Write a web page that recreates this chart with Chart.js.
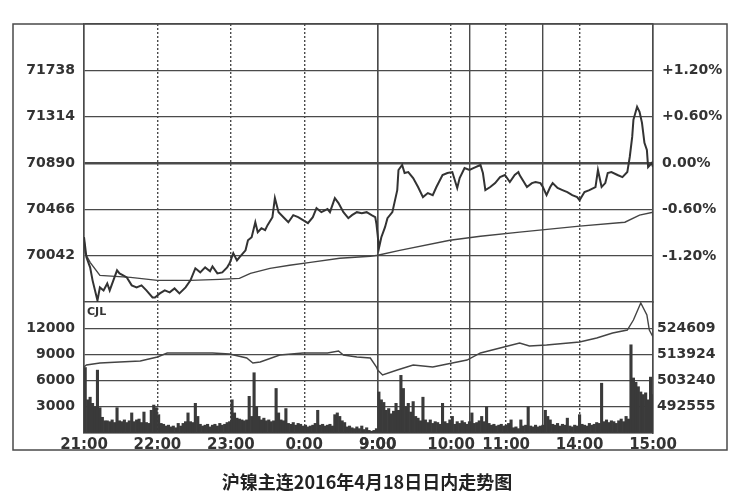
<!DOCTYPE html>
<html lang="zh-CN">
<head>
<meta charset="utf-8">
<title>沪镍主连2016年4月18日日内走势图</title>
<script src="https://cdn.jsdelivr.net/npm/chart.js@4.4.1/dist/chart.umd.min.js"></script>
<style>
  html, body { margin: 0; padding: 0; background: #fff; }
  #wrap { position: relative; width: 748px; height: 499px; }
  #caption {
    position: absolute; left: 0; top: 468px; width: 734px;
    text-align: center; color: #222;
    font: bold 18px "Noto Sans CJK SC", sans-serif;
  }
</style>
</head>
<body>
<div id="wrap">
  <canvas id="chart" width="748" height="499"></canvas>
  <div id="caption">沪镍主连2016年4月18日日内走势图</div>
</div>
<script>
// ─────────────────────────────────────────
// DATA (x = minutes since 21:00, trading time only)
// ─────────────────────────────────────────
const PREV_CLOSE = 70890;
const PRICE_TICKS = [70042, 70466, 70890, 71314, 71738];
const PCT_TICKS = [-1.2, -0.6, 0, 0.6, 1.2];
const VOL_TICKS = [3000, 6000, 9000, 12000];
const OI_TICKS = [492555, 503240, 513924, 524609];
const TIME_TICKS = [0, 60, 120, 180, 240, 300, 345, 405, 465];
const TIME_LABELS = ['21:00', '22:00', '23:00', '0:00', '9:00', '10:00', '11:00', '14:00', '15:00'];
const SESSION_BREAKS = [240, 315, 375];

const PRICE_MIN = [
  0, 2, 5, 7, 11, 13, 16, 19, 21, 24, 27, 29, 32, 35, 39, 43, 47, 51, 56, 58,
  62, 66, 70, 74, 78, 83, 87, 91, 95, 99, 103, 105, 109, 113, 117, 119, 122, 125, 127, 132,
  134, 137, 140, 142, 145, 148, 150, 154, 156, 159, 163, 167, 171, 175, 179, 183, 187, 190, 194, 199,
  201, 205, 208, 212, 216, 219, 223, 227, 231, 235, 238, 239, 240, 241, 243, 246, 248, 252, 256, 257,
  260, 262, 265, 269, 273, 277, 281, 285, 288, 293, 297, 301, 305, 307, 311, 315, 320, 324, 326, 328,
  332, 336, 340, 344, 348, 352, 355, 356, 359, 362, 366, 369, 373, 375, 378, 381, 383, 387, 391, 395,
  399, 403, 405, 409, 413, 418, 420, 423, 426, 428, 431, 436, 440, 444, 446, 448, 449, 452, 454, 456,
  458, 460, 461, 464, 465,
];
const PRICE = [
  70211, 70027, 69935, 69816, 69632, 69752, 69724, 69788, 69724, 69816, 69908, 69880, 69862, 69843, 69770, 69752, 69770, 69724, 69660, 69660,
  69697, 69724, 69706, 69742, 69697, 69752, 69816, 69926, 69889, 69935, 69899, 69944, 69880, 69889, 69935, 69972, 70064, 69999, 70027, 70091,
  70183, 70211, 70348, 70257, 70293, 70275, 70321, 70394, 70569, 70440, 70394, 70348, 70413, 70394, 70367, 70339, 70394, 70477, 70440, 70468,
  70440, 70569, 70523, 70440, 70385, 70413, 70440, 70431, 70440, 70413, 70394, 70330, 70230, 70110, 70211, 70303, 70385, 70440, 70642, 70826,
  70872, 70798, 70807, 70752, 70670, 70578, 70615, 70596, 70670, 70780, 70798, 70807, 70661, 70752, 70844, 70826, 70853, 70872, 70798, 70642,
  70670, 70706, 70761, 70780, 70716, 70780, 70807, 70780, 70725, 70670, 70706, 70716, 70706, 70670, 70596, 70670, 70706, 70661, 70642, 70624,
  70596, 70578, 70550, 70624, 70642, 70670, 70826, 70670, 70706, 70798, 70807, 70780, 70761, 70807, 70945, 71129, 71285, 71404, 71358, 71257,
  71074, 71009, 70853, 70890, 70853,
];

const AVG_MIN = [0, 1, 5, 13, 38, 60, 87, 111, 127, 136, 152, 168, 185, 209, 234, 240, 258, 299, 324, 356, 405, 442, 454, 465];
const AVG = [70211, 70064, 69981, 69862, 69843, 69816, 69816, 69825, 69834, 69880, 69926, 69954, 69981, 70018, 70036, 70046, 70091, 70183, 70220, 70257, 70312, 70348, 70413, 70440];

const OI_MIN = [
  0, 2, 13, 29, 46, 60, 68, 84, 105, 119, 133, 138, 144, 160, 179, 199, 208, 212, 223, 234,
  239, 240, 244, 256, 269, 285, 301, 313, 324, 340, 356, 364, 378, 405, 419, 432, 444, 449, 455, 460,
  462, 465,
];
const OI = [
  508785, 509600, 510416, 510824, 511232, 512863, 514494, 514494, 514494, 514086, 512455, 510416, 510824, 513678, 514494, 514494, 515310, 513678, 512863, 512455,
  508785, 507561, 505522, 507561, 509600, 508785, 510416, 511639, 514494, 516533, 518572, 517349, 517756, 518980, 520611, 522650, 523873, 527951, 534884, 529990,
  523873, 521019,
];

// volume (CJL) in 2-minute buckets starting 21:00
const VOL = [
  7500, 3800, 4100, 3400, 3000, 7200, 2900, 1800, 1400, 1400,
  1300, 1500, 1200, 2900, 1400, 1300, 1500, 1200, 1400, 2300,
  1300, 1500, 1600, 1200, 2400, 1200, 1100, 2600, 3200, 2900,
  2100, 1100, 1000, 800, 900, 700, 800, 600, 1100, 800,
  1100, 1300, 2300, 1300, 1200, 3400, 1900, 1000, 800, 900,
  1000, 700, 900, 1000, 800, 1100, 900, 1000, 1200, 1300,
  3800, 2300, 1700, 1600, 1500, 1400, 1500, 4200, 1900, 6900,
  3000, 1900, 1500, 1700, 1400, 1500, 1300, 1400, 5100, 2300,
  1500, 1400, 2800, 1100, 1000, 1200, 900, 1100, 1000, 800,
  900, 700, 800, 900, 1100, 2600, 900, 1000, 800, 900,
  1000, 800, 2100, 2300, 1900, 1400, 1200, 700, 800, 600,
  500, 700, 500, 800, 400, 600, 300, 200, 300, 500,
  4700, 3800, 3500, 2600, 2800, 2200, 2500, 3400, 2600, 6600,
  5100, 3000, 3400, 2400, 3600, 1900, 1700, 1400, 4100, 1500,
  1200, 1500, 1100, 1300, 1200, 1000, 3400, 1300, 1100, 1500,
  1900, 1000, 1300, 1100, 1400, 1200, 1000, 1300, 2300, 1100,
  1200, 1400, 1900, 1300, 3000, 1100, 900, 1000, 800, 900,
  1000, 800, 900, 1100, 1500, 600, 700, 500, 1500, 800,
  900, 3000, 800, 700, 900, 700, 800, 900, 2600, 1900,
  1500, 1000, 900, 1100, 800, 1000, 900, 1700, 800, 700,
  900, 800, 2100, 1000, 900, 800, 1100, 900, 1000, 1200,
  1100, 5700, 1300, 1500, 1200, 1400, 1300, 1100, 1400, 1600,
  1300, 1900, 1600, 10100, 6300, 5800, 5300, 4700, 4400, 4600,
  3800, 6400, 4400,
];

// ─────────────────────────────────────────
// AXIS RANGES — each panel is 3 grid steps either side / 5 steps tall
// ─────────────────────────────────────────
const PRICE_STEP = PRICE_TICKS[1] - PRICE_TICKS[0];
const PRICE_LO = PREV_CLOSE - 3 * PRICE_STEP;
const PRICE_HI = PREV_CLOSE + 3 * PRICE_STEP;
const PCT_HI = (PRICE_HI / PREV_CLOSE - 1) * 100;
const VOL_STEP = VOL_TICKS[1] - VOL_TICKS[0];
const VOL_HI = VOL_TICKS[VOL_TICKS.length - 1] + VOL_STEP;
const OI_STEP = (OI_TICKS[3] - OI_TICKS[0]) / 3;
const OI_LO = OI_TICKS[0] - OI_STEP;
const OI_HI = OI_TICKS[3] + OI_STEP;

const INK = '#333';
const GRID = '#4a4a4a';
const TICK_FONT = { family: "'DejaVu Sans', sans-serif", size: 14, weight: 'bold' };

const pairs = (xs, ys) => xs.map((x, i) => ({ x, y: ys[i] }));
const fixWidth = w => s => { s.width = w; };
const setTicks = values => s => { s.ticks = values.map(v => ({ value: v })); };

function fmtPct(v) {
  if (v === 0) return '0.00%';
  return (v > 0 ? '+' : '-') + Math.abs(v).toFixed(2) + '%';
}

// ─────────────────────────────────────────
// PLUGIN — outer frame and the CJL tag
// ─────────────────────────────────────────
const decor = {
  id: 'decor',
  afterDraw(chart) {
    const { ctx, chartArea } = chart;
    const vol = chart.scales.vol;
    ctx.save();
    ctx.strokeStyle = GRID;
    ctx.lineWidth = 1.5;
    ctx.strokeRect(13, chartArea.top, 714, 426);
    ctx.fillStyle = INK;
    ctx.font = "bold 11px 'DejaVu Sans', sans-serif";
    ctx.textBaseline = 'middle';
    ctx.fillText('CJL', chartArea.left + 3, vol.top + 10);
    ctx.restore();
  },
};

// ─────────────────────────────────────────
// CHART
// ─────────────────────────────────────────
new Chart(document.getElementById('chart'), {
  data: {
    datasets: [
      {
        type: 'line', label: '价格', yAxisID: 'price', order: 1,
        data: pairs(PRICE_MIN, PRICE),
        borderColor: INK, borderWidth: 2, pointRadius: 0, tension: 0,
      },
      {
        type: 'line', label: '均价', yAxisID: 'price', order: 2,
        data: pairs(AVG_MIN, AVG),
        borderColor: '#444', borderWidth: 1.4, pointRadius: 0, tension: 0,
      },
      {
        type: 'line', label: '持仓', yAxisID: 'oi', order: 3,
        data: pairs(OI_MIN, OI),
        borderColor: '#444', borderWidth: 1.4, pointRadius: 0, tension: 0,
      },
      {
        type: 'bar', label: 'CJL', yAxisID: 'vol', order: 4,
        data: VOL.map((v, k) => ({ x: 2 * k + 1, y: v })),
        backgroundColor: '#3a3a3a', borderWidth: 0,
        barPercentage: 1, categoryPercentage: 1,
      },
    ],
  },
  options: {
    responsive: false,
    animation: false,
    devicePixelRatio: 1,
    layout: { padding: { top: 24, left: 0, right: 0, bottom: 0 } },
    plugins: { legend: { display: false }, tooltip: { enabled: false } },
    scales: {
      x: {
        type: 'linear', min: 0, max: 465, offset: false,
        afterBuildTicks: setTicks([...TIME_TICKS, ...SESSION_BREAKS].sort((a, b) => a - b)),
        afterFit: s => { s.height = 66; },
        ticks: {
          color: INK, font: { ...TICK_FONT, size: 15 }, padding: 3, autoSkip: false, maxRotation: 0,
          callback: v => {
            const i = TIME_TICKS.indexOf(v);
            return i >= 0 ? TIME_LABELS[i] : '';
          },
        },
        grid: { color: GRID, lineWidth: 1.4, drawTicks: false, offset: false },
        border: {
          color: GRID, width: 1.5,
          dash: c => {
            const v = c.tick && c.tick.value;
            if (v === undefined || v === 0 || v === 465 || SESSION_BREAKS.includes(v)) return [];
            return [2, 2];
          },
        },
      },
      vol: {
        type: 'linear', position: 'left', stack: 'left', stackWeight: 131,
        min: 0, max: VOL_HI,
        afterBuildTicks: setTicks([0, ...VOL_TICKS, VOL_HI]),
        afterFit: fixWidth(84),
        ticks: { color: INK, font: TICK_FONT, padding: 9, autoSkip: false, callback: v => VOL_TICKS.includes(v) ? String(v) : '' },
        grid: { color: GRID, lineWidth: 1.3, drawTicks: false },
        border: { color: GRID, width: 1.5 },
      },
      price: {
        type: 'linear', position: 'left', stack: 'left', stackWeight: 278,
        min: PRICE_LO, max: PRICE_HI,
        afterBuildTicks: setTicks([PRICE_LO, ...PRICE_TICKS, PRICE_HI]),
        afterFit: fixWidth(84),
        ticks: { color: INK, font: TICK_FONT, padding: 9, autoSkip: false, callback: v => PRICE_TICKS.includes(v) ? String(v) : '' },
        grid: {
          color: GRID, drawTicks: false,
          lineWidth: c => (c.tick && c.tick.value === PREV_CLOSE ? 2.4 : 1.3),
        },
        border: { color: GRID, width: 1.5 },
      },
      pct: {
        type: 'linear', position: 'right', stack: 'right', stackWeight: 278,
        min: -PCT_HI, max: PCT_HI,
        afterBuildTicks: setTicks(PCT_TICKS),
        afterFit: fixWidth(95),
        ticks: { color: INK, font: TICK_FONT, padding: 9, autoSkip: false, callback: fmtPct },
        grid: { display: false, drawTicks: false },
        border: { color: GRID, width: 1.5 },
      },
      oi: {
        type: 'linear', position: 'right', stack: 'right', stackWeight: 131,
        min: OI_LO, max: OI_HI,
        afterBuildTicks: setTicks(OI_TICKS),
        afterFit: fixWidth(95),
        ticks: { color: INK, font: TICK_FONT, padding: 4, autoSkip: false, callback: v => String(Math.round(v)) },
        grid: { display: false, drawTicks: false },
        border: { color: GRID, width: 1.5 },
      },
    },
  },
  plugins: [decor],
});
</script>
</body>
</html>
